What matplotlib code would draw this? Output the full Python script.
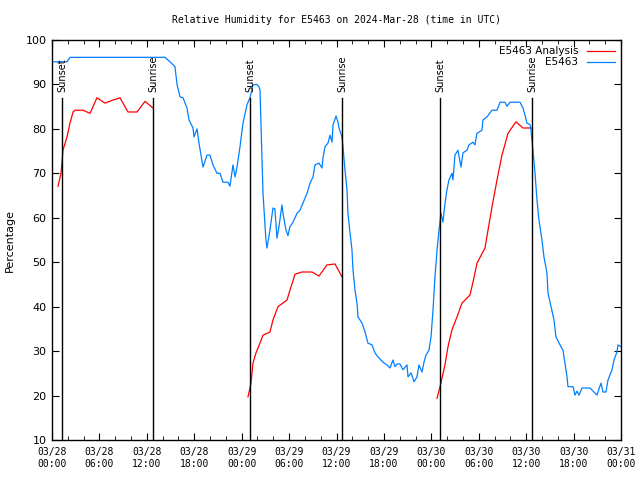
import numpy as np
import matplotlib
matplotlib.use('Agg')
import matplotlib.pyplot as plt
from matplotlib.ticker import MultipleLocator

# hours since 03/28 00:00 UTC
obs_hours = [0, 1.9, 2.28, 14.3, 14.93, 15.56, 15.82, 16.2, 16.58, 17.08, 17.34, 17.84,
             17.97, 18.35, 18.6, 19.11, 19.61, 19.99, 20.37, 20.88, 21.26, 21.64, 22.27,
             22.52, 22.9, 23.16, 23.41, 23.79, 24.17, 24.67, 25.05, 25.43, 25.94, 26.19,
             26.32, 26.7, 27.07, 27.2, 27.58, 27.96, 28.2, 28.47, 28.72, 29.1, 29.23,
             29.61, 29.86, 30.11, 30.5, 31.0, 31.38, 31.76, 32.27, 32.65, 33.03, 33.28,
             33.78, 34.16, 34.29, 34.54, 34.92, 35.18, 35.43, 35.56, 35.94, 36.19, 36.32,
             36.69, 36.82, 37.07, 37.33, 37.45, 37.71, 37.96, 38.09, 38.34, 38.59, 38.72,
             39.23, 39.61, 39.98, 40.49, 40.87, 41.25, 41.88, 42.39, 42.77, 43.15, 43.4,
             43.65, 44.03, 44.41, 44.92, 45.05, 45.43, 45.81, 46.18, 46.44, 46.82, 47.07,
             47.32, 47.7, 47.96, 48.21, 48.46, 48.72, 48.97, 49.22, 49.47, 49.73, 49.98,
             50.23, 50.61, 50.74, 50.99, 51.37, 51.75, 52.0, 52.51, 52.76, 53.27, 53.52,
             53.77, 54.41, 54.53, 55.04, 55.67, 56.31, 56.69, 57.32, 57.57, 57.95, 59.22,
             59.6, 59.85, 60.1, 60.48, 60.61, 60.86, 61.12, 61.37, 61.62, 62.0, 62.25,
             62.63, 62.76, 63.14, 63.52, 63.77, 64.28, 64.66, 64.91, 65.17, 65.29, 65.93,
             66.18, 66.43, 66.69, 67.07, 68.08, 68.46, 68.96, 69.21, 69.47, 69.72, 70.1,
             70.35, 70.86, 71.11, 71.49, 71.62, 72.0]
obs_rh = [95.1, 95.1, 96.1, 96.1, 95.1, 94.0, 90.0, 87.2, 87.0, 84.7, 82.0, 80.2,
          78.2, 80.0, 76.8, 71.4, 74.1, 74.1, 71.9, 70.0, 70.0, 68.0, 68.0,
          67.1, 71.9, 69.2, 71.4, 76.0, 81.3, 85.4, 87.0, 89.9, 90.0, 89.5,
          88.7, 65.5, 55.0, 53.2, 57.2, 62.2, 62.0, 55.4, 58.0, 62.9, 61.0,
          57.2, 56.0, 58.0, 59.0, 61.0, 61.7, 63.3, 65.5, 67.8, 69.2, 71.9,
          72.3, 71.2, 73.4, 76.0, 76.8, 78.6, 77.0, 80.9, 82.9, 81.5, 80.2,
          78.2, 76.0, 70.8, 66.3, 61.0, 56.6, 52.7, 48.2, 43.7, 40.8, 37.7,
          36.3, 34.3, 31.8, 31.4, 29.6, 28.7, 27.5, 26.9, 26.2, 28.0, 26.5,
          27.1, 27.1, 25.8, 26.9, 24.2, 25.1, 23.1, 24.2, 26.9, 25.3, 27.5,
          29.1, 30.2, 33.2, 39.2, 46.7, 52.7, 57.2, 61.0, 59.0, 63.3, 66.3,
          68.5, 70.0, 68.5, 74.1, 75.2, 71.4, 74.6, 75.2, 76.4, 77.0, 76.4,
          79.0, 79.7, 82.0, 82.7, 84.2, 84.2, 86.0, 86.0, 85.1, 86.0, 86.0,
          84.7, 83.1, 81.3, 81.0, 79.7, 75.2, 70.0, 64.0, 59.5, 55.0, 51.2,
          47.6, 43.1, 40.0, 37.0, 33.2, 31.4, 30.2, 27.3, 24.2, 22.0, 22.0,
          20.1, 21.0, 20.1, 21.7, 21.7, 21.0, 20.1, 21.5, 22.8, 20.8, 20.8,
          23.5, 25.8, 28.0, 29.8, 31.4, 31.0]

# analysis, three separate pieces
ana1_hours = [0.76, 1.14, 1.39, 1.9, 2.28, 2.66, 2.91, 3.92, 4.81, 5.69, 6.71, 7.59,
              8.6, 9.62, 10.76, 11.77, 12.78]
ana1_rh = [67.1, 70.0, 75.2, 78.2, 81.3, 83.8, 84.2, 84.2, 83.5, 87.0, 85.8, 86.4,
           87.0, 83.8, 83.8, 86.2, 84.7]
ana2_hours = [24.8, 25.18, 25.43, 25.81, 26.32, 26.7, 27.58, 27.96, 28.6, 29.74, 30.11,
              30.75, 31.63, 32.9, 33.78, 34.8, 35.81, 36.69]
ana2_rh = [19.7, 22.8, 27.3, 29.6, 31.8, 33.6, 34.3, 37.0, 40.0, 41.5, 43.7,
           47.3, 47.8, 47.8, 46.9, 49.4, 49.6, 46.7]
ana3_hours = [48.72, 49.1, 49.73, 50.11, 50.61, 51.25, 51.88, 52.89, 53.27, 53.78,
              54.79, 55.17, 55.67, 56.31, 56.94, 57.7, 58.71, 59.6, 60.74]
ana3_rh = [19.4, 22.0, 26.9, 31.0, 34.8, 37.7, 40.8, 42.6, 45.5, 49.8,
           53.2, 57.2, 62.4, 68.5, 74.1, 79.0, 81.6, 80.2, 80.2]

sun_hours = [1.27, 12.78, 25.05, 36.69, 49.1, 60.74]
sun_names = ['Sunset', 'Sunrise', 'Sunset', 'Sunrise', 'Sunset', 'Sunrise']

tick_labels = ['03/28\n00:00', '03/28\n06:00', '03/28\n12:00', '03/28\n18:00',
               '03/29\n00:00', '03/29\n06:00', '03/29\n12:00', '03/29\n18:00',
               '03/30\n00:00', '03/30\n06:00', '03/30\n12:00', '03/30\n18:00',
               '03/31\n00:00']

ana_hours = ana1_hours + [np.nan] + ana2_hours + [np.nan] + ana3_hours
ana_rh = ana1_rh + [np.nan] + ana2_rh + [np.nan] + ana3_rh

fig = plt.figure(figsize=(6.4, 4.8), dpi=100)
ax = fig.add_axes([52/640, 40/480, 569/640, 400/480])

ax.plot(ana_hours, ana_rh, color='#ff0000', lw=0.9, label='E5463 Analysis')
ax.plot(obs_hours, obs_rh, color='#0080ff', lw=0.9, label='E5463')

for h, name in zip(sun_hours, sun_names):
    ax.plot([h, h], [10, 87], color='black', lw=1.0)
    ax.text(h, 88.2, name, rotation=90, ha='center', va='bottom',
            fontsize=7, family='DejaVu Sans')

ax.set_xlim(0, 72)
ax.set_ylim(10, 100)
ax.set_xticks(np.arange(0, 73, 6))
ax.set_xticklabels(tick_labels, family='DejaVu Sans Mono', fontsize=7)
ax.xaxis.set_minor_locator(MultipleLocator(2))
ax.set_yticks(np.arange(10, 101, 10))
ax.tick_params(axis='y', labelsize=8)
ax.tick_params(which='both', direction='in', top=True, right=True)
ax.tick_params(which='major', length=5, pad=5)
ax.tick_params(axis='y', pad=4)
ax.tick_params(which='minor', length=3)
for s in ax.spines.values():
    s.set_linewidth(1.0)

ax.set_ylabel('Percentage', fontsize=8)
ax.yaxis.set_label_coords(-37/569, 0.5)
ax.set_title('Relative Humidity for E5463 on 2024-Mar-28 (time in UTC)',
             family='DejaVu Sans Mono', fontsize=7, pad=12)

ax.legend(loc='upper right', frameon=False, markerfirst=False, fontsize=7.5,
          handlelength=2.7, borderaxespad=0.4, labelspacing=0.1, borderpad=0.2)

fig.savefig('out.png', dpi=100)
